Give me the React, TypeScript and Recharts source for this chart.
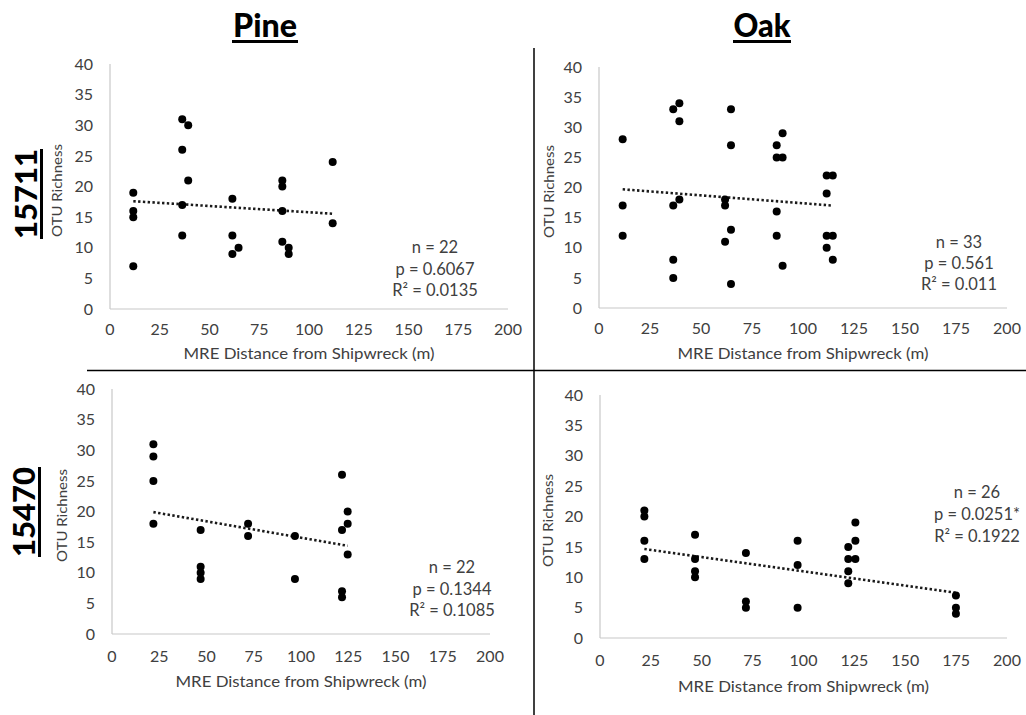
import React from 'react';
import { ScatterChart, Scatter, XAxis, YAxis, ReferenceLine } from 'recharts';

type Pair = [number, number];

const distanceTicks = [0, 25, 50, 75, 100, 125, 150, 175, 200];
const richnessTicks = [0, 5, 10, 15, 20, 25, 30, 35, 40];

const treeTypes = ['Pine', 'Oak'];
const siteIds = ['15711', '15470'];
const xTitle = 'MRE Distance from Shipwreck (m)';
const yTitle = 'OTU Richness';

// [MRE distance (m), OTU richness]
const pine15711: Pair[] = [
  [11.7, 19], [11.7, 16], [11.7, 15], [11.7, 7],
  [36.3, 31], [39.3, 30], [36.3, 26], [39.3, 21], [36.3, 17], [36.3, 12],
  [61.5, 18], [61.5, 12], [64.6, 10], [61.5, 9],
  [86.6, 21], [86.6, 20], [86.6, 16], [86.6, 11], [89.8, 10], [89.8, 9],
  [111.9, 24], [111.9, 14],
];
const oak15711: Pair[] = [
  [11.6, 28], [11.6, 17], [11.6, 12],
  [36.4, 33], [39.4, 34], [39.4, 31], [36.4, 17], [39.4, 18], [36.4, 8], [36.4, 5],
  [64.7, 33], [64.7, 27], [61.8, 18], [61.8, 17], [64.7, 13], [61.8, 11], [64.7, 4],
  [87.1, 27], [90, 29], [87.1, 25], [90, 25], [87.1, 16], [87.1, 12], [90, 7],
  [111.6, 22], [114.6, 22], [111.6, 19], [111.6, 12], [114.6, 12], [111.6, 10], [114.6, 8],
];
const pine15470: Pair[] = [
  [21.9, 31], [21.9, 29], [21.9, 25], [21.9, 18],
  [46.9, 17], [46.9, 11], [46.9, 10], [46.9, 9],
  [72, 18], [72, 16],
  [96.8, 16], [96.8, 9],
  [121.7, 26], [121.7, 17], [121.7, 7], [121.7, 6],
  [124.7, 20], [124.7, 18], [124.7, 13],
];
const oak15470: Pair[] = [
  [21.8, 21], [21.8, 20], [21.8, 16], [21.8, 13],
  [46.7, 17], [46.7, 13], [46.7, 11], [46.7, 10],
  [71.7, 14], [71.7, 6], [71.7, 5],
  [97.1, 16], [97.1, 12], [97.1, 5],
  [122, 15], [122, 13], [122, 11], [122, 9],
  [125.5, 19], [125.5, 16], [125.5, 13],
  [174.9, 7], [174.9, 5], [174.9, 4],
];

// Linear trendline end points
const pine15711Trend: Pair[] = [[11.7, 17.6], [111.9, 15.55]];
const oak15711Trend: Pair[] = [[11.6, 19.7], [114.6, 17.0]];
const pine15470Trend: Pair[] = [[21.9, 19.9], [124.7, 14.4]];
const oak15470Trend: Pair[] = [[21.8, 14.65], [174.9, 7.45]];

const pine15711Stats = ['n = 22', 'p = 0.6067', 'R² = 0.0135'];
const oak15711Stats = ['n = 33', 'p = 0.561', 'R² = 0.011'];
const pine15470Stats = ['n = 22', 'p = 0.1344', 'R² = 0.1085'];
const oak15470Stats = ['n = 26', 'p = 0.0251*', 'R² = 0.1922'];

const FONT = 'Lato, "Open Sans", sans-serif';
const TEXT = '#404040';
const AXIS = '#c8c8c8';

type Box = { x0: number; x1: number; yTop: number; yBottom: number };

type PanelSpec = {
  box: Box;
  points: Pair[];
  trend: Pair[];
  stats: string[];
  statsAt: [number, number]; // centre of first stats line
  statsGap: number;
  yTitleX: number;
  xTitleGap: number;
  tickGap: number;
};

const panels: PanelSpec[] = [
  {
    box: { x0: 110, x1: 508, yTop: 64, yBottom: 309 },
    points: pine15711, trend: pine15711Trend, stats: pine15711Stats,
    statsAt: [435, 247], statsGap: 21.5, yTitleX: 57, xTitleGap: 44, tickGap: 9,
  },
  {
    box: { x0: 599, x1: 1007, yTop: 67, yBottom: 308 },
    points: oak15711, trend: oak15711Trend, stats: oak15711Stats,
    statsAt: [959, 242], statsGap: 21, yTitleX: 549, xTitleGap: 45, tickGap: 9,
  },
  {
    box: { x0: 112, x1: 490, yTop: 389, yBottom: 634 },
    points: pine15470, trend: pine15470Trend, stats: pine15470Stats,
    statsAt: [452, 567], statsGap: 21.5, yTitleX: 62, xTitleGap: 47, tickGap: 11,
  },
  {
    box: { x0: 600, x1: 1007, yTop: 395, yBottom: 638 },
    points: oak15470, trend: oak15470Trend, stats: oak15470Stats,
    statsAt: [977, 492], statsGap: 22, yTitleX: 548, xTitleGap: 48, tickGap: 11,
  },
];

const Dot = (props: any) => {
  const { cx, cy } = props;
  if (cx == null || cy == null) return <g />;
  return <circle cx={cx} cy={cy} r={4} fill="#000" />;
};

const PAD_L = 60;
const PAD_R = 20;
const PAD_T = 20;
const X_AXIS_H = 40;

function Panel({ spec }: { spec: PanelSpec }) {
  const { box, points, trend, tickGap } = spec;
  const data = points.map(([x, y]) => ({ x, y }));
  const width = box.x1 - box.x0 + PAD_L + PAD_R;
  const height = box.yBottom - box.yTop + PAD_T + X_AXIS_H;
  return (
    <div style={{ position: 'absolute', left: box.x0 - PAD_L, top: box.yTop - PAD_T }}>
      <ScatterChart
        width={width}
        height={height}
        margin={{ top: PAD_T, right: PAD_R, bottom: 0, left: 0 }}
      >
        <XAxis
          type="number"
          dataKey="x"
          domain={[0, 200]}
          ticks={distanceTicks}
          interval={0}
          height={X_AXIS_H}
          tickLine={false}
          tickSize={6}
          tickMargin={tickGap}
          axisLine={{ stroke: AXIS, strokeWidth: 1.2 }}
          tick={{ fill: TEXT, fontSize: 16, fontFamily: FONT }}
        />
        <YAxis
          type="number"
          dataKey="y"
          domain={[0, 40]}
          ticks={richnessTicks}
          interval={0}
          width={PAD_L}
          tickLine={false}
          tickSize={6}
          tickMargin={11}
          axisLine={{ stroke: AXIS, strokeWidth: 1.2 }}
          tick={{ fill: TEXT, fontSize: 16, fontFamily: FONT }}
        />
        <ReferenceLine
          segment={[
            { x: trend[0][0], y: trend[0][1] },
            { x: trend[1][0], y: trend[1][1] },
          ]}
          stroke="#1a1a1a"
          strokeWidth={2.6}
          strokeDasharray="2.4 2.4"
          ifOverflow="visible"
        />
        <Scatter data={data} shape={Dot} isAnimationActive={false} />
      </ScatterChart>
    </div>
  );
}

function Overlay() {
  return (
    <svg
      width={1026}
      height={715}
      style={{ position: 'absolute', left: 0, top: 0, pointerEvents: 'none' }}
      fontFamily={FONT}
    >
      {/* column headers */}
      <text x={265} y={37} textAnchor="middle" fontSize={33} fontWeight={900} fill="#000"
        textLength={64} lengthAdjust="spacingAndGlyphs">{treeTypes[0]}</text>
      <line x1={232} x2={298} y1={41.5} y2={41.5} stroke="#000" strokeWidth={3.2} />
      <text x={762} y={37} textAnchor="middle" fontSize={33} fontWeight={900} fill="#000"
        textLength={57} lengthAdjust="spacingAndGlyphs">{treeTypes[1]}</text>
      <line x1={733} x2={791} y1={41.5} y2={41.5} stroke="#000" strokeWidth={3.2} />

      {/* row headers */}
      <text transform="translate(37,194) rotate(-90)" textAnchor="middle" fontSize={31} fontWeight={900}
        fill="#000" textLength={90} lengthAdjust="spacingAndGlyphs">{siteIds[0]}</text>
      <line x1={41.5} x2={41.5} y1={149} y2={239} stroke="#000" strokeWidth={3} />
      <text transform="translate(35,512) rotate(-90)" textAnchor="middle" fontSize={31} fontWeight={900}
        fill="#000" textLength={90} lengthAdjust="spacingAndGlyphs">{siteIds[1]}</text>
      <line x1={39.5} x2={39.5} y1={467} y2={557} stroke="#000" strokeWidth={3} />

      {/* quadrant dividers */}
      <line x1={534} x2={534} y1={48} y2={715} stroke="#000" strokeWidth={1.5} />
      <line x1={87} x2={1026} y1={370.5} y2={370.5} stroke="#000" strokeWidth={1.5} />

      {panels.map((p, i) => {
        const cx = (p.box.x0 + p.box.x1) / 2;
        const cy = (p.box.yTop + p.box.yBottom) / 2;
        return (
          <g key={i}>
            <text x={cx} y={p.box.yBottom + p.xTitleGap + 5.5} textAnchor="middle" fontSize={16} fill={TEXT}
              textLength={251} lengthAdjust="spacingAndGlyphs">
              {xTitle}
            </text>
            <text transform={`translate(${p.yTitleX + 5},${cy + 4}) rotate(-90)`} textAnchor="middle"
              fontSize={14} fill={TEXT} textLength={93} lengthAdjust="spacingAndGlyphs">
              {yTitle}
            </text>
            {p.stats.map((s, k) => (
              <text key={k} x={p.statsAt[0]} y={p.statsAt[1] + k * p.statsGap + 6} textAnchor="middle"
                fontSize={16.5} fill={TEXT}>
                {s}
              </text>
            ))}
          </g>
        );
      })}
    </svg>
  );
}

export default function App() {
  return (
    <div style={{ position: 'absolute', left: 0, top: 0, width: 1026, height: 715, background: '#fff' }}>
      {panels.map((p, i) => (
        <Panel key={i} spec={p} />
      ))}
      <Overlay />
    </div>
  );
}
